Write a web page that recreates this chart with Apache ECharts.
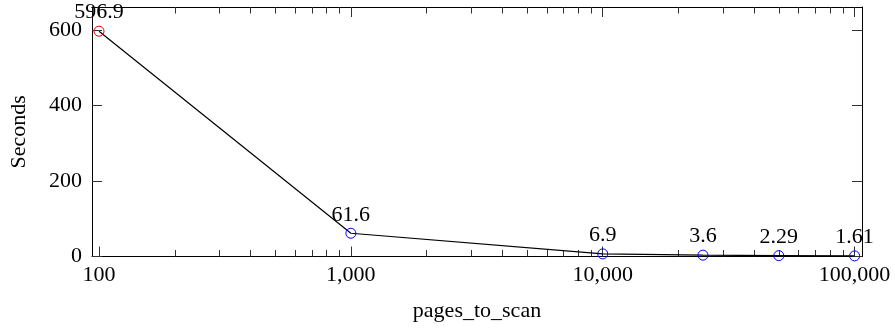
<!DOCTYPE html>
<html><head><meta charset="utf-8">
<script src="https://cdn.jsdelivr.net/npm/echarts@6/dist/echarts.min.js"></script>
<style>html,body{margin:0;padding:0;background:#fff}#c{width:895px;height:328px}</style>
</head><body><div id="c"></div>
<script>
const pagesToScan = [100, 1000, 10000, 25000, 50000, 100000];
const seconds = [596.9, 61.6, 6.9, 3.6, 2.29, 1.61];
const markerColors = ['#e00000', '#0000ff', '#0000ff', '#0000ff', '#0000ff', '#0000ff'];
const xMajorTicks = [100, 1000, 10000, 100000];
const xMinorTicks = [200, 300, 400, 500, 600, 700, 800, 900,
  2000, 3000, 4000, 5000, 6000, 7000, 8000, 9000,
  20000, 30000, 40000, 50000, 60000, 70000, 80000, 90000];
const yTicks = [0, 200, 400, 600];
const xName = 'pages_to_scan';
const yName = 'Seconds';

const FONT = 'Liberation Serif';
const FS = 22;
const X_MIN = 93.8, X_MAX = 107000, Y_MIN = 0, Y_MAX = 661;

function fmt(v) { return Number(v).toLocaleString('en-US'); }

function xAxisDef(pos, ticks, len, main) {
  return {
    type: 'log', logBase: 10, position: pos, min: X_MIN, max: X_MAX, gridIndex: 0,
    name: main ? xName : '', nameLocation: 'middle', nameGap: 44,
    nameTextStyle: { fontFamily: FONT, fontSize: FS, color: '#000' },
    axisLine: { show: !!main || pos === 'top', lineStyle: { color: '#000', width: 1 } },
    axisTick: { show: true, inside: true, length: len, customValues: ticks, lineStyle: { color: '#333', width: 1 } },
    axisLabel: { show: !!main && pos === 'bottom', customValues: xMajorTicks, margin: 8, fontFamily: FONT, fontSize: FS, color: '#000', formatter: fmt },
    splitLine: { show: false }, minorTick: { show: false }
  };
}
function yAxisDef(pos, main) {
  return {
    type: 'value', position: pos, min: Y_MIN, max: Y_MAX, gridIndex: 0,
    name: main ? yName : '', nameLocation: 'middle', nameGap: 62, nameRotate: 90,
    nameTextStyle: { fontFamily: FONT, fontSize: FS, color: '#000' },
    axisLine: { show: true, onZero: false, lineStyle: { color: '#000', width: 1 } },
    axisTick: { show: true, inside: true, length: 10, customValues: yTicks, lineStyle: { color: '#333', width: 1 } },
    axisLabel: { show: !!main, customValues: yTicks, margin: 10, fontFamily: FONT, fontSize: FS, color: '#000' },
    splitLine: { show: false }
  };
}

const chart = echarts.init(document.getElementById('c'), null, { renderer: 'canvas' });
chart.setOption({
  animation: false,
  backgroundColor: '#fff',
  grid: { left: 89, right: 33, top: 7, bottom: 71.5, containLabel: false },
  xAxis: [
    xAxisDef('bottom', xMajorTicks, 10, true),
    xAxisDef('bottom', xMinorTicks, 6.5, false),
    xAxisDef('top', xMajorTicks, 10, false),
    xAxisDef('top', xMinorTicks, 6.5, false)
  ],
  yAxis: [yAxisDef('left', true), yAxisDef('right', false)],
  series: [{
    type: 'line', xAxisIndex: 0, yAxisIndex: 0,
    symbol: 'circle', symbolSize: 10,
    lineStyle: { color: '#000', width: 1.2 },
    color: '#000',
    data: pagesToScan.map((x, i) => ({
      value: [x, seconds[i]],
      itemStyle: { color: 'rgba(0,0,0,0)', borderColor: markerColors[i], borderWidth: 1 }
    })),
    label: { show: true, position: 'top', distance: 2, fontFamily: FONT, fontSize: FS, color: '#000',
      formatter: p => String(p.value[1]) },
    z: 3
  }]
});
</script></body></html>
